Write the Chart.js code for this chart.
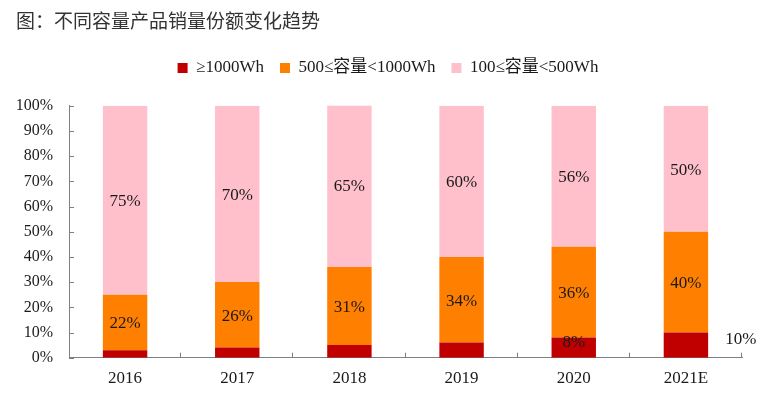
<!DOCTYPE html>
<html>
<head>
<meta charset="utf-8">
<script src="https://cdn.jsdelivr.net/npm/chart.js@4/dist/chart.umd.min.js"></script>
<style>
  html, body { margin: 0; padding: 0; background: #fff; }
  #wrap { width: 766px; height: 394px; }
</style>
</head>
<body>
<div id="wrap"><canvas id="chart"></canvas></div>
<script>
// Share of sales by product capacity, per year
const years = ['2016', '2017', '2018', '2019', '2020', '2021E'];
const seriesNames = ['≥1000Wh', '500≤容量<1000Wh', '100≤容量<500Wh'];
const big = [3, 4, 5, 6, 8, 10];        // >= 1000Wh
const mid = [22, 26, 31, 34, 36, 40];   // 500 - 1000Wh
const small = [75, 70, 65, 60, 56, 50]; // 100 - 500Wh
const yTicks = [0, 10, 20, 30, 40, 50, 60, 70, 80, 90, 100];

const colors = ['#C00000', '#FF7F00', '#FFC0CB'];
const serif = '"Liberation Serif", "Times New Roman", "Noto Sans CJK SC", serif';
const axisColor = '#808080';

// inner tick marks (the axes here have ticks pointing into the plot)
const innerTicks = {
    id: 'innerTicks',
    afterDraw(chart) {
        const {ctx, chartArea, scales} = chart;
        ctx.save();
        ctx.strokeStyle = axisColor;
        ctx.lineWidth = 1;
        ctx.beginPath();
        yTicks.forEach(v => {
            const y = Math.round(scales.y.getPixelForValue(v)) + 0.5;
            ctx.moveTo(chartArea.left, y);
            ctx.lineTo(chartArea.left + 5, y);
        });
        const step = (chartArea.right - chartArea.left) / years.length;
        for (let i = 1; i <= years.length; i++) {
            const x = Math.round(chartArea.left + i * step) - 0.5;
            ctx.moveTo(x, chartArea.bottom);
            ctx.lineTo(x, chartArea.bottom - 5);
        }
        ctx.stroke();
        ctx.restore();
    }
};

// percentage labels on the segments
const segLabels = {
    id: 'segLabels',
    afterDatasetsDraw(chart) {
        const {ctx} = chart;
        ctx.save();
        ctx.font = '17px ' + serif;
        ctx.fillStyle = '#1a1a1a';
        ctx.textBaseline = 'middle';
        chart.data.datasets.forEach((ds, di) => {
            const meta = chart.getDatasetMeta(di);
            meta.data.forEach((bar, i) => {
                const v = ds.data[i];
                const txt = v + '%';
                const mid = (bar.y + bar.base) / 2 + 1.5;
                if (di === 0) {
                    // small red segments: only the last two are labelled
                    if (v < 8) return;
                    if (i === years.length - 1) {
                        ctx.textAlign = 'left';
                        ctx.fillText(txt, bar.x + bar.width / 2 + 17, mid - 7);
                    } else {
                        ctx.textAlign = 'center';
                        ctx.fillText(txt, bar.x, mid - 7);
                    }
                    return;
                }
                ctx.textAlign = 'center';
                ctx.fillText(txt, bar.x, mid);
            });
        });
        ctx.restore();
    }
};

const ctx = document.getElementById('chart').getContext('2d');
new Chart(ctx, {
    type: 'bar',
    data: {
        labels: years,
        datasets: [
            { label: seriesNames[0], data: big, backgroundColor: colors[0] },
            { label: seriesNames[1], data: mid, backgroundColor: colors[1] },
            { label: seriesNames[2], data: small, backgroundColor: colors[2] },
        ],
    },
    options: {
        responsive: true,
        maintainAspectRatio: false,
        animation: false,
        layout: { padding: { left: 16, right: 6, top: 0, bottom: 0 } },
        datasets: {
            bar: { categoryPercentage: 1, barPercentage: 0.396, borderWidth: 0 }
        },
        scales: {
            x: {
                stacked: true,
                grid: { display: false, drawTicks: false },
                border: { display: true, color: axisColor, width: 1 },
                ticks: { color: '#1a1a1a', font: { family: serif, size: 17 }, padding: 11 },
                afterFit: s => { s.height = 36.3; },
            },
            y: {
                stacked: true,
                min: 0,
                max: 100,
                grid: { display: false, drawTicks: false },
                border: { display: true, color: axisColor, width: 1 },
                ticks: {
                    stepSize: 10,
                    padding: 16,
                    color: '#1a1a1a',
                    font: { family: serif, size: 16 },
                    callback: v => v + '%',
                },
                afterFit: s => { s.width = 53; },
            },
            // empty right-hand axis, only used to keep space on the right
            yRight: {
                position: 'right',
                display: true,
                grid: { display: false, drawTicks: false },
                border: { display: false },
                ticks: { display: false },
                afterFit: s => { s.width = 18; },
            },
        },
        plugins: {
            title: {
                display: true,
                text: '图：不同容量产品销量份额变化趋势',
                align: 'start',
                color: '#333',
                font: { family: '"Noto Sans CJK SC", sans-serif', size: 19, weight: 'normal', lineHeight: 1.2 },
                padding: { top: 9, bottom: 11.7 },
            },
            subtitle: {
                display: true,
                text: '',
                weight: 500,
                font: { size: 10, lineHeight: '19.2px' },
                padding: 0,
            },
            legend: {
                display: true,
                position: 'top',
                align: 'center',
                labels: {
                    boxWidth: 10,
                    boxHeight: 10,
                    padding: 16,
                    color: '#1a1a1a',
                    font: { family: serif, size: 17 },
                },
            },
            tooltip: { enabled: false },
        },
    },
    plugins: [innerTicks, segLabels],
});
</script>
</body>
</html>
